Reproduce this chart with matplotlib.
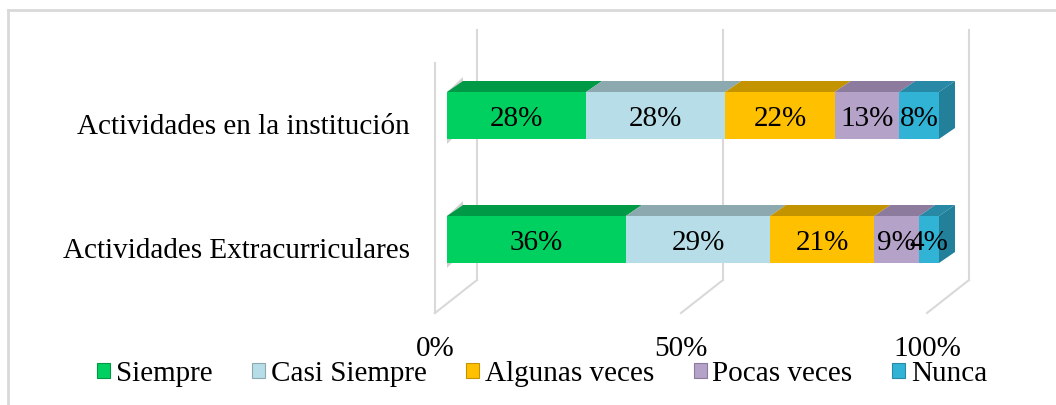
import matplotlib
matplotlib.use("Agg")
import matplotlib.pyplot as plt
from matplotlib.patches import Polygon, Patch
from matplotlib.lines import Line2D
import numpy as np

# ---------------- data ----------------
categories = ["Actividades en la institución", "Actividades Extracurriculares"]
series_names = ["Siempre", "Casi Siempre", "Algunas veces", "Pocas veces", "Nunca"]
siempre = [28, 36]
casi_siempre = [28, 29]
algunas_veces = [22, 21]
pocas_veces = [13, 9]
nunca = [8, 4]
tick_values = [0, 50, 100]
tick_labels = ["0%", "50%", "100%"]

series_values = [siempre, casi_siempre, algunas_veces, pocas_veces, nunca]

# ---------------- style ----------------
front_colors = ["#00D060", "#B7DEE8", "#FFC000", "#B4A2C8", "#31B3D6"]
top_colors = ["#009A46", "#8CA9B0", "#C49400", "#8C7B9C", "#2789A6"]
side_color = "#23809A"
grid_color = "#D9D9D9"
FONT = "Liberation Serif"
FS = 21

W, H = 1056, 405
fig = plt.figure(figsize=(W / 100, H / 100), dpi=100)
ax = fig.add_axes([0, 0, 1, 1])

PX_X = 4.92    # pixels per percent
PX_Y = 124.0   # pixels per category step
X0, Y0 = 447, 115.5
ax.set_xlim(-X0 / PX_X, (W - X0) / PX_X)
ax.set_ylim((H - Y0) / PX_Y, -Y0 / PX_Y)
ax.axis("off")

def ox(px):
    return px / PX_X

def oy(py):
    return py / PX_Y

# ---------------- walls / grid ----------------
wall_top = oy(30 - Y0)
wall_bot = oy(280 - Y0)
back_dx = ox(30)
floor_dx = ox(-12)
floor_dy = oy(33)
for p in tick_values:
    ax.plot([p + back_dx, p + back_dx], [wall_top, wall_bot], color=grid_color, lw=1.5, zorder=1)
    ax.plot([p + back_dx, p + floor_dx], [wall_bot, wall_bot + floor_dy], color=grid_color, lw=1.5, zorder=1)
ax.plot([floor_dx, floor_dx], [wall_top + floor_dy, wall_bot + floor_dy], color=grid_color, lw=1.5, zorder=1)

# ---------------- bars ----------------
vals = np.array(series_values, dtype=float)
totals = vals.sum(axis=0)
pct = vals / totals * 100
ypos = np.arange(len(categories))
bh = oy(47)
bdx = ox(16)
bdy = oy(11)

lefts = np.zeros(len(categories))
for s in range(len(series_names)):
    ax.barh(ypos, pct[s], left=lefts, height=bh, color=front_colors[s],
            edgecolor="none", zorder=3)
    for i in range(len(categories)):
        x0 = lefts[i]
        x1 = lefts[i] + pct[s][i]
        top = ypos[i] - bh / 2
        ax.add_patch(Polygon([(x0, top), (x1, top), (x1 + bdx, top - bdy), (x0 + bdx, top - bdy)],
                             closed=True, facecolor=top_colors[s], edgecolor="none", zorder=2))
        ax.text((x0 + x1) / 2, ypos[i] + oy(4), f"{int(series_values[s][i])}%",
                ha="center", va="center", fontsize=FS, family=FONT, color="black", zorder=6)
    lefts = lefts + pct[s]

# side face and left shadow
for i in range(len(categories)):
    top = ypos[i] - bh / 2
    bot = ypos[i] + bh / 2
    xr = lefts[i]
    ax.add_patch(Polygon([(xr, top), (xr + bdx, top - bdy), (xr + bdx, bot - bdy), (xr, bot)],
                         closed=True, facecolor=side_color, edgecolor="none", zorder=2))
    ax.add_patch(Polygon([(0, top), (bdx, top - bdy - oy(4)), (bdx, bot - bdy), (0, bot + oy(5))],
                         closed=True, facecolor="#9A9A9A", alpha=0.45, edgecolor="none", zorder=1.5))

# ---------------- labels ----------------
for i, c in enumerate(categories):
    ax.text(ox(410 - X0), ypos[i] + oy(12), c, ha="right", va="center",
            fontsize=FS, family=FONT, color="black")
for p, t in zip(tick_values, tick_labels):
    ax.text(p + floor_dx, oy(349 - Y0), t, ha="center", va="center",
            fontsize=FS, family=FONT, color="black")

# ---------------- legend ----------------
handles = [Patch(facecolor=front_colors[s], edgecolor=top_colors[s], linewidth=0.8)
           for s in range(len(series_names))]
leg = fig.legend(handles, series_names, loc="center", bbox_to_anchor=(542 / W, 1 - 374 / H),
                 ncol=5, frameon=False, prop={"family": FONT, "size": FS},
                 handlelength=0.45, handleheight=0.45, handletextpad=0.2, columnspacing=1.35,
                 borderaxespad=0)

# ---------------- border ----------------
fig.add_artist(Line2D([8 / W, 8 / W], [0, 1 - 10 / H], transform=fig.transFigure, color=grid_color, lw=2))
fig.add_artist(Line2D([8 / W, 1], [1 - 10 / H, 1 - 10 / H], transform=fig.transFigure, color=grid_color, lw=2))

fig.savefig("out.png", dpi=100)
